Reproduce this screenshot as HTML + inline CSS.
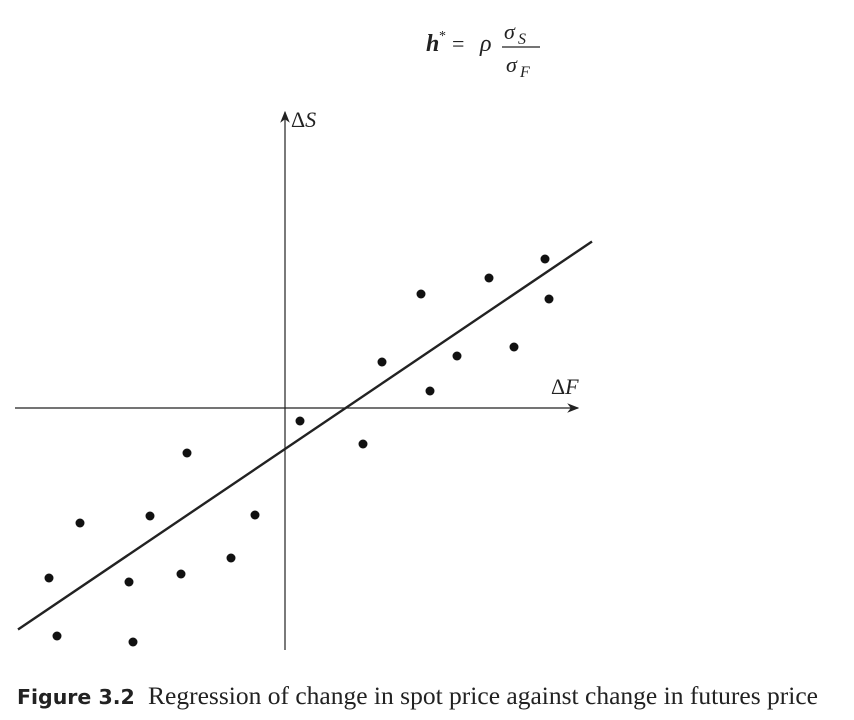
<!DOCTYPE html>
<html><head><meta charset="utf-8"><style>
body{margin:0;background:#fff;width:854px;height:720px;overflow:hidden}
svg{position:absolute;left:0;top:0}
</style></head><body>
<svg width="854" height="720">
<defs><marker id="ar" markerWidth="10" markerHeight="8" refX="9" refY="4" orient="auto"><path d="M0,0 L10,4 L0,8 L3,4z" fill="#222"/></marker></defs>
<g id="axes"></g>
<g id="marks"></g>
<g font-family="Liberation Serif, serif" font-style="italic" fill="#222">
<text x="426" y="51" font-size="24" font-weight="bold">h</text>
<text x="439" y="40" font-size="14" font-style="normal">*</text>
<text x="452" y="51" font-size="22" font-style="normal">=</text>
<text x="480" y="51" font-size="24">ρ</text>
<text x="504" y="39" font-size="22">σ</text><text x="518" y="44" font-size="16">S</text>
<line x1="502" y1="47" x2="540" y2="47" stroke="#222" stroke-width="1.2"/>
<text x="506" y="72" font-size="22">σ</text><text x="520" y="77" font-size="16">F</text>
</g>
<text x="291" y="127" font-family="Liberation Serif, serif" font-size="22" fill="#222">Δ<tspan font-style="italic">S</tspan></text>
<text x="551" y="394" font-family="Liberation Serif, serif" font-size="22" fill="#222">Δ<tspan font-style="italic">F</tspan></text>
<text x="17" y="704" font-family="DejaVu Sans, sans-serif" font-size="20.5" font-weight="bold" fill="#222">Figure 3.2</text>
<text x="148" y="704" font-family="Liberation Serif, serif" font-size="25.3" fill="#222" textLength="670" lengthAdjust="spacingAndGlyphs">Regression of change in spot price against change in futures price</text>
</svg>
<script>
const dxVals=[-236,-228,-205,-156,-152,-135,-104,-98,-54,-30,15,78,97,136,145,172,204,229,260,264];
const dsVals=[-170,-228,-115,-174,-234,-108,-166,-45,-150,-107,-13,-36,46,114,17,52,130,61,149,109];
const lineX=[-267,307];
const slope=0.676, intercept=-41;
const ox=285, oy=408;
const sx=v=>ox+v, sy=v=>oy-v;
const NS='http://www.w3.org/2000/svg';
const ax=document.getElementById('axes'), mk=document.getElementById('marks');
function L(x1,y1,x2,y2,name,arrow){const l=document.createElementNS(NS,'line');
l.setAttribute('x1',x1);l.setAttribute('y1',y1);l.setAttribute('x2',x2);l.setAttribute('y2',y2);
l.setAttribute('stroke','#222');l.setAttribute('stroke-width',arrow?1.2:2.4);
if(arrow)l.setAttribute('marker-end','url(#ar)');


return l;}
ax.appendChild(L(15,oy,578,oy,'x-axis',true));
ax.appendChild(L(ox,650,ox,112,'y-axis',true));
mk.appendChild(L(sx(lineX[0]),sy(intercept+slope*lineX[0]),sx(lineX[1]),sy(intercept+slope*lineX[1]),'regression-line',false));
dxVals.forEach((d,i)=>{const c=document.createElementNS(NS,'circle');
c.setAttribute('cx',sx(d));c.setAttribute('cy',sy(dsVals[i]));c.setAttribute('r',4.5);c.setAttribute('fill','#111');


mk.appendChild(c);});
</script>
</body></html>
